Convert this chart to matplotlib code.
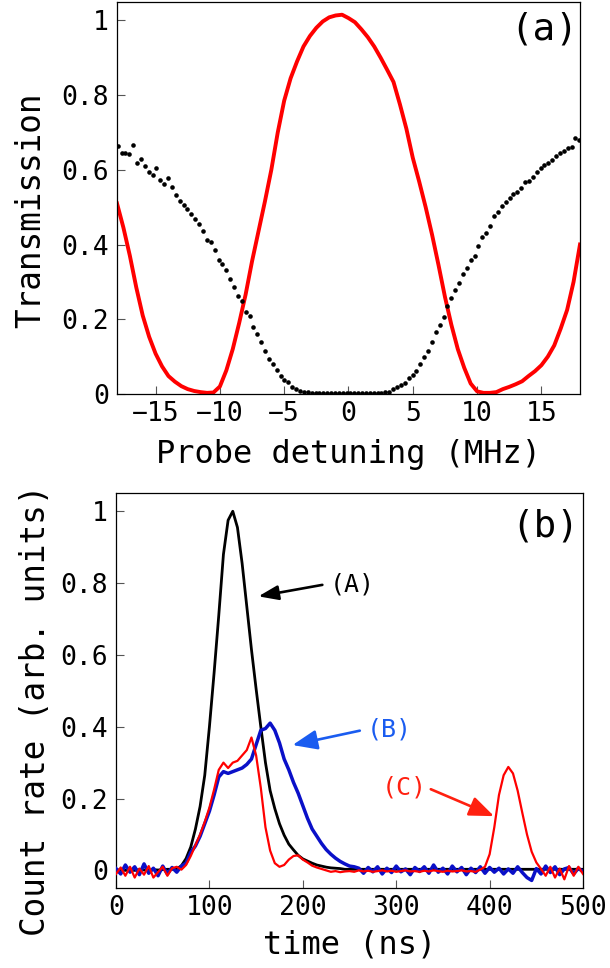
import numpy as np
import matplotlib
matplotlib.use("Agg")
import matplotlib.pyplot as plt

plt.rcParams['font.family'] = ['DejaVu Sans Mono', 'DejaVu Sans']
plt.rcParams['axes.unicode_minus'] = True

# ---------------- Panel (a) data ----------------
# black dots: transmission vs probe detuning (sampled on a uniform grid)
dot_x = np.linspace(-17.95, 17.95, 120)
dot_y = [0.663, 0.645, 0.644, 0.642, 0.666, 0.617, 0.630, 0.611, 0.594, 0.586,
         0.605, 0.574, 0.563, 0.579, 0.553, 0.532, 0.517, 0.505, 0.494, 0.481,
         0.467, 0.456, 0.436, 0.412, 0.406, 0.385, 0.358, 0.347, 0.333, 0.307,
         0.285, 0.263, 0.249, 0.220, 0.209, 0.178, 0.160, 0.140, 0.116, 0.093,
         0.079, 0.064, 0.049, 0.037, 0.031, 0.020, 0.014, 0.009, 0.006, 0.004,
         0.003, 0.003, 0.003, 0.003, 0.003, 0.003, 0.003, 0.003, 0.003, 0.003,
         0.003, 0.003, 0.003, 0.003, 0.003, 0.003, 0.003, 0.003, 0.003, 0.004,
         0.006, 0.013, 0.018, 0.024, 0.030, 0.042, 0.050, 0.062, 0.080, 0.098,
         0.115, 0.140, 0.166, 0.184, 0.206, 0.235, 0.257, 0.278, 0.297, 0.320,
         0.338, 0.358, 0.370, 0.395, 0.419, 0.432, 0.450, 0.477, 0.487, 0.503,
         0.514, 0.524, 0.535, 0.541, 0.552, 0.566, 0.571, 0.580, 0.594, 0.606,
         0.612, 0.618, 0.627, 0.636, 0.644, 0.649, 0.657, 0.662, 0.686, 0.681]

# red line: transmission curve
red_x = [-18.0, -17.5, -17.0, -16.5, -16.0, -15.5, -15.0, -14.5, -14.0, -13.5,
         -13.0, -12.5, -12.0, -11.5, -11.0, -10.5, -10.0, -9.5, -9.0, -8.5,
         -8.0, -7.5, -7.0, -6.5, -6.0, -5.5, -5.0, -4.5, -4.0, -3.5,
         -3.0, -2.5, -2.0, -1.5, -1.0, -0.5, 0.0, 0.5, 1.0, 1.5,
         2.0, 2.5, 3.0, 3.5, 4.0, 4.5, 5.0, 5.5, 6.0, 6.5,
         7.0, 7.5, 8.0, 8.5, 9.0, 9.5, 10.0, 10.5, 11.0, 11.5,
         12.0, 12.5, 13.0, 13.5, 14.0, 14.5, 15.0, 15.5, 16.0, 16.5,
         17.0, 17.5, 18.0]
red_y = [0.510, 0.445, 0.370, 0.285, 0.210, 0.153, 0.108, 0.074, 0.048, 0.033,
         0.021, 0.013, 0.008, 0.005, 0.003, 0.004, 0.020, 0.063, 0.120, 0.190,
         0.266, 0.355, 0.435, 0.515, 0.600, 0.700, 0.785, 0.845, 0.890, 0.930,
         0.958, 0.980, 0.997, 1.008, 1.013, 1.015, 1.006, 0.995, 0.976, 0.955,
         0.930, 0.900, 0.868, 0.835, 0.775, 0.710, 0.632, 0.568, 0.500, 0.426,
         0.345, 0.260, 0.185, 0.120, 0.070, 0.028, 0.007, 0.003, 0.003, 0.005,
         0.013, 0.019, 0.026, 0.034, 0.048, 0.061, 0.077, 0.100, 0.130, 0.175,
         0.225, 0.300, 0.400]

# ---------------- Panel (b) data ----------------
time_ns = np.arange(0, 505, 5)
curve_A = [0.000, 0.002, 0.000, 0.001, 0.000, 0.002, 0.001, 0.000, 0.002, 0.001,
           0.002, 0.003, 0.003, 0.004, 0.013, 0.033, 0.065, 0.115, 0.178, 0.265,
           0.400, 0.550, 0.710, 0.880, 0.975, 1.000, 0.955, 0.855, 0.735, 0.615,
           0.505, 0.400, 0.300, 0.222, 0.172, 0.130, 0.098, 0.073, 0.057, 0.042,
           0.032, 0.026, 0.020, 0.015, 0.012, 0.009, 0.007, 0.006, 0.005, 0.003,
           0.003, 0.003, 0.003, 0.003, 0.003, 0.003, 0.003, 0.003, 0.003, 0.003,
           0.003, 0.003, 0.003, 0.003, 0.003, 0.003, 0.003, 0.003, 0.003, 0.003,
           0.003, 0.003, 0.003, 0.003, 0.003, 0.003, 0.003, 0.003, 0.003, 0.003,
           0.003, 0.003, 0.003, 0.003, 0.003, 0.003, 0.003, 0.003, 0.003, 0.003,
           0.003, 0.003, 0.003, 0.003, 0.003, 0.003, 0.003, 0.003, 0.003, 0.003,
           0.003]
curve_B = [0.005, -0.010, 0.015, -0.005, 0.010, -0.012, 0.018, -0.008, 0.006, -0.015,
           0.012, -0.010, 0.008, -0.005, 0.012, 0.020, 0.050, 0.068, 0.095, 0.130,
           0.165, 0.210, 0.260, 0.275, 0.270, 0.275, 0.280, 0.285, 0.295, 0.310,
           0.350, 0.390, 0.395, 0.410, 0.390, 0.355, 0.310, 0.280, 0.245, 0.215,
           0.180, 0.145, 0.115, 0.095, 0.075, 0.058, 0.045, 0.034, 0.025, 0.018,
           0.012, 0.010, 0.006, -0.008, 0.008, -0.004, 0.010, -0.010, 0.006, -0.006,
           0.012, -0.004, 0.004, -0.012, 0.008, -0.003, 0.010, -0.008, 0.015, -0.005,
           0.006, -0.010, 0.012, -0.004, 0.008, -0.012, 0.006, -0.006, 0.010, -0.008,
           0.008, -0.005, 0.006, -0.010, 0.004, -0.008, 0.010, -0.006, -0.020, -0.028,
           0.005, -0.010, 0.012, -0.006, 0.010, -0.012, 0.004, 0.008, -0.010, 0.006,
           -0.004]
curve_C = [-0.010, 0.008, -0.015, 0.010, -0.020, 0.005, -0.012, 0.012, -0.020, -0.005,
           0.010, -0.015, 0.006, 0.010, 0.002, 0.015, 0.040, 0.070, 0.100, 0.135,
           0.175, 0.225, 0.280, 0.300, 0.285, 0.300, 0.305, 0.320, 0.335, 0.370,
           0.320, 0.230, 0.120, 0.055, 0.020, 0.010, 0.015, 0.030, 0.040, 0.042,
           0.030, 0.022, 0.013, 0.008, 0.004, 0.000, -0.004, -0.002, -0.005, -0.003,
           -0.002, -0.004, 0.000, -0.003, -0.001, -0.004, -0.002, 0.000, -0.003, -0.001,
           -0.004, -0.002, 0.000, -0.003, -0.002, -0.004, -0.001, -0.003, 0.000, -0.002,
           -0.004, -0.001, -0.003, -0.002, 0.000, -0.003, -0.002, -0.004, 0.002, 0.010,
           0.045, 0.120, 0.210, 0.265, 0.288, 0.270, 0.222, 0.160, 0.100, 0.052,
           0.022, 0.004, -0.015, 0.010, -0.020, 0.005, -0.025, 0.012, -0.015, 0.010,
           -0.010]

xticks_a = [-15, -10, -5, 0, 5, 10, 15]
yticks = [0, 0.2, 0.4, 0.6, 0.8, 1.0]
ytick_labels = ['0', '0.2', '0.4', '0.6', '0.8', '1']
xticks_b = [0, 100, 200, 300, 400, 500]

BLUE_LINE = '#0a10c8'
BLUE_TEXT = '#1a5cf0'
RED_TEXT = '#ff2010'

fig = plt.figure(figsize=(6.1, 9.68), dpi=100)
ax1 = fig.add_axes([0.1918, 0.5930, 0.7590, 0.4053])
ax2 = fig.add_axes([0.1902, 0.0823, 0.7656, 0.4081])

for ax in (ax1, ax2):
    ax.tick_params(direction='in', length=5.5, width=0.8, color='#555555',
                   labelsize=19, top=False, right=False)
    ax.tick_params(axis='y', pad=6)
    ax.tick_params(axis='x', pad=5)
    for s in ax.spines.values():
        s.set_linewidth(0.9)
        s.set_color('black')

# Panel (a)
ax1.plot(red_x, red_y, color='#ff0000', lw=2.8, zorder=2)
ax1.plot(dot_x, dot_y, 'o', color='black', ms=3.3, mew=0, zorder=3)
ax1.set_xlim(-18, 18)
ax1.set_ylim(0, 1.05)
ax1.set_xticks(xticks_a)
ax1.set_xticklabels(['\u2212' + str(-t) if t < 0 else str(t) for t in xticks_a])
ax1.set_yticks(yticks)
ax1.set_yticklabels(ytick_labels)
ax1.set_xlabel('Probe detuning (MHz)', fontsize=23, va='center')
ax1.xaxis.set_label_coords(0.5, -0.155)
ax1.set_ylabel('Transmission', fontsize=23.5, va='center', ha='center')
ax1.yaxis.set_label_coords(-0.186, 0.469)
ax1.text(0.922, 0.928, '(a)', transform=ax1.transAxes, fontsize=27,
         ha='center', va='center')

# Panel (b)
ax2.plot(time_ns, curve_A, color='black', lw=2.0, zorder=2)
ax2.plot(time_ns, curve_B, color=BLUE_LINE, lw=2.5, zorder=3)
ax2.plot(time_ns, curve_C, color='#ff0000', lw=1.6, zorder=4)
ax2.set_xlim(0, 500)
ax2.set_ylim(-0.05, 1.05)
ax2.set_xticks(xticks_b)
ax2.set_yticks(yticks)
ax2.set_yticklabels(ytick_labels)
ax2.set_xlabel('time (ns)', fontsize=23, va='center')
ax2.xaxis.set_label_coords(0.5, -0.1435)
ax2.set_ylabel('Count rate (arb. units)', fontsize=23.5, va='center', ha='center')
ax2.yaxis.set_label_coords(-0.173, 0.451)
ax2.text(0.919, 0.915, '(b)', transform=ax2.transAxes, fontsize=27,
         ha='center', va='center')

arrow_kw = dict(arrowstyle='-|>,head_length=0.75,head_width=0.3',
                mutation_scale=20, lw=1.9, shrinkA=0, shrinkB=0)
ax2.annotate('', xy=(152.4, 0.763), xytext=(220.9, 0.795),
             arrowprops=dict(color='black', **{**arrow_kw,
                             'arrowstyle': '-|>,head_length=0.6,head_width=0.22'}))
ax2.text(253, 0.795, '(A)', fontsize=18, color='black', ha='center', va='center')
ax2.annotate('', xy=(189, 0.349), xytext=(261, 0.389),
             arrowprops=dict(color=BLUE_TEXT, **arrow_kw))
ax2.text(292.5, 0.393, '(B)', fontsize=18, color=BLUE_TEXT, ha='center', va='center')
ax2.annotate('', xy=(404.7, 0.151), xytext=(337, 0.226),
             arrowprops=dict(color=RED_TEXT, **arrow_kw))
ax2.text(308.5, 0.232, '(C)', fontsize=18, color=RED_TEXT, ha='center', va='center')

fig.savefig('out.png', dpi=100)
